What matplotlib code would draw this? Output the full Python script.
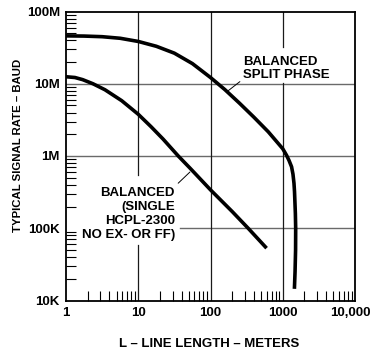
import matplotlib
matplotlib.use("Agg")
import matplotlib.pyplot as plt
from matplotlib.ticker import LogLocator, NullFormatter
from matplotlib import font_manager

plt.rcParams["font.family"] = ["Liberation Sans", "DejaVu Sans"]
plt.rcParams["font.weight"] = "bold"

# Balanced split phase: line length (m) vs. typical signal rate (baud)
split_len = [1, 1.78, 3.16, 5.62, 10, 17.8, 31.6, 56.2, 100, 158, 251,
             398, 631, 1000, 1060, 1130, 1220, 1324, 1385, 1430, 1455,
             1470, 1495, 1510, 1505, 1480, 1450]
split_rate = [46e6, 45.7e6, 44.8e6, 42.6e6, 38.5e6, 33.0e6, 26.5e6,
              19.0e6, 12.2e6, 8.3e6, 5.4e6, 3.45e6, 2.16e6, 1.26e6,
              1.14e6, 1.02e6, 0.87e6, 0.71e6, 0.56e6, 0.42e6, 0.32e6,
              0.247e6, 0.16e6, 0.1e6, 0.05e6, 0.025e6, 0.0145e6]

# Balanced, single HCPL-2300, no EX-OR flip-flop
single_len = [1, 1.33, 1.7, 2.36, 3.46, 5.9, 10, 15, 22, 35.8, 52, 100,
              200, 332, 597]
single_rate = [12.5e6, 12.2e6, 11.4e6, 10e6, 8.26e6, 5.83e6, 3.78e6,
               2.55e6, 1.72e6, 1.0e6, 0.68e6, 0.34e6, 0.17e6, 0.1e6,
               0.053e6]

x_ticks = [1, 10, 100, 1000, 10000]
x_tick_labels = ["1", "10", "100", "1000", "10,000"]
y_ticks = [1e4, 1e5, 1e6, 1e7, 1e8]
y_tick_labels = ["10K", "100K", "1M", "10M", "100M"]

FS = 9.5

fig = plt.figure(figsize=(3.72, 3.53), dpi=100)
ax = fig.add_axes([66 / 372, 52.5 / 353, 289 / 372, 289 / 353])
ax.set_xscale("log")
ax.set_yscale("log")
ax.set_xlim(1, 10000)
ax.set_ylim(1e4, 1e8)

# grid lines (some interrupted behind the curve labels)
hcol, vcol = "#6a6a6a", "#1a1a1a"
ax.axhline(1e7, color=hcol, lw=1.0, zorder=1)
ax.axhline(1e6, color=hcol, lw=1.0, zorder=1)
ax.axhline(1e5, xmin=0.394, xmax=1, color=hcol, lw=1.0, zorder=1)
ax.axvline(10, ymin=0.434, ymax=1, color=vcol, lw=0.9, zorder=1)
ax.axvline(10, ymin=0, ymax=0.192, color=vcol, lw=0.9, zorder=1)
ax.axvline(100, color=vcol, lw=0.9, zorder=1)
ax.axvline(1000, ymin=0.878, ymax=1, color=vcol, lw=0.9, zorder=1)
ax.axvline(1000, ymin=0, ymax=0.751, color=vcol, lw=0.9, zorder=1)

ax.plot(split_len, split_rate, color="black", lw=2.6,
        solid_capstyle="butt", solid_joinstyle="round", zorder=3)
ax.plot(single_len, single_rate, color="black", lw=2.6,
        solid_capstyle="butt", solid_joinstyle="round", zorder=3)

# curve labels with leader lines
ax.text(0.613, 0.803, "BALANCED\nSPLIT PHASE", transform=ax.transAxes,
        ha="left", va="center", fontsize=FS, fontweight="bold",
        linespacing=1.15)
ax.annotate("", xy=(170, 7.8e6), xytext=(255, 10.7e6),
            arrowprops=dict(arrowstyle="-", color="black", lw=0.7,
                            shrinkA=0, shrinkB=0))
ax.text(0.377, 0.299, "BALANCED\n(SINGLE\nHCPL-2300\nNO EX- OR FF)",
        transform=ax.transAxes, ha="right", va="center", fontsize=FS,
        fontweight="bold", linespacing=1.2, multialignment="right")
ax.annotate("", xy=(51.9, 6.0e5), xytext=(35.7, 4.2e5),
            arrowprops=dict(arrowstyle="-", color="black", lw=0.7,
                            shrinkA=0, shrinkB=0))

ax.set_xticks(x_ticks)
ax.set_xticklabels(x_tick_labels[:-1] + [""])
ax.annotate(x_tick_labels[-1], xy=(x_ticks[-1], 0),
            xycoords=("data", "axes fraction"), xytext=(-3, -4.5),
            textcoords="offset points", ha="center", va="top",
            fontsize=FS, fontweight="bold")
ax.set_yticks(y_ticks)
ax.set_yticklabels(y_tick_labels)
ax.xaxis.set_minor_locator(LogLocator(base=10, subs=range(2, 10), numticks=20))
ax.yaxis.set_minor_locator(LogLocator(base=10, subs=range(2, 10), numticks=20))
ax.xaxis.set_minor_formatter(NullFormatter())
ax.yaxis.set_minor_formatter(NullFormatter())
ax.tick_params(which="major", length=0, labelsize=FS, pad=4.5)
ax.tick_params(which="minor", direction="in", length=7.2, width=0.8)
for lab in ax.get_xticklabels() + ax.get_yticklabels():
    lab.set_fontweight("bold")

for s in ax.spines.values():
    s.set_linewidth(1.3)

narrow = [f.name for f in font_manager.fontManager.ttflist
          if f.name == "Liberation Sans Narrow"]
ylab_family = ["Liberation Sans Narrow", "Liberation Sans"] if narrow else ["Liberation Sans"]
ylab_size = FS if narrow else 8.2
fig.text(18.5 / 372, 1 - 145 / 353, "TYPICAL SIGNAL RATE – BAUD", rotation=90,
         ha="center", va="center", fontsize=ylab_size, fontweight="bold",
         family=ylab_family)
fig.text(209 / 372, 9 / 353, "L – LINE LENGTH – METERS", ha="center",
         va="center", fontsize=FS, fontweight="bold")

fig.savefig("out.png", dpi=100)
